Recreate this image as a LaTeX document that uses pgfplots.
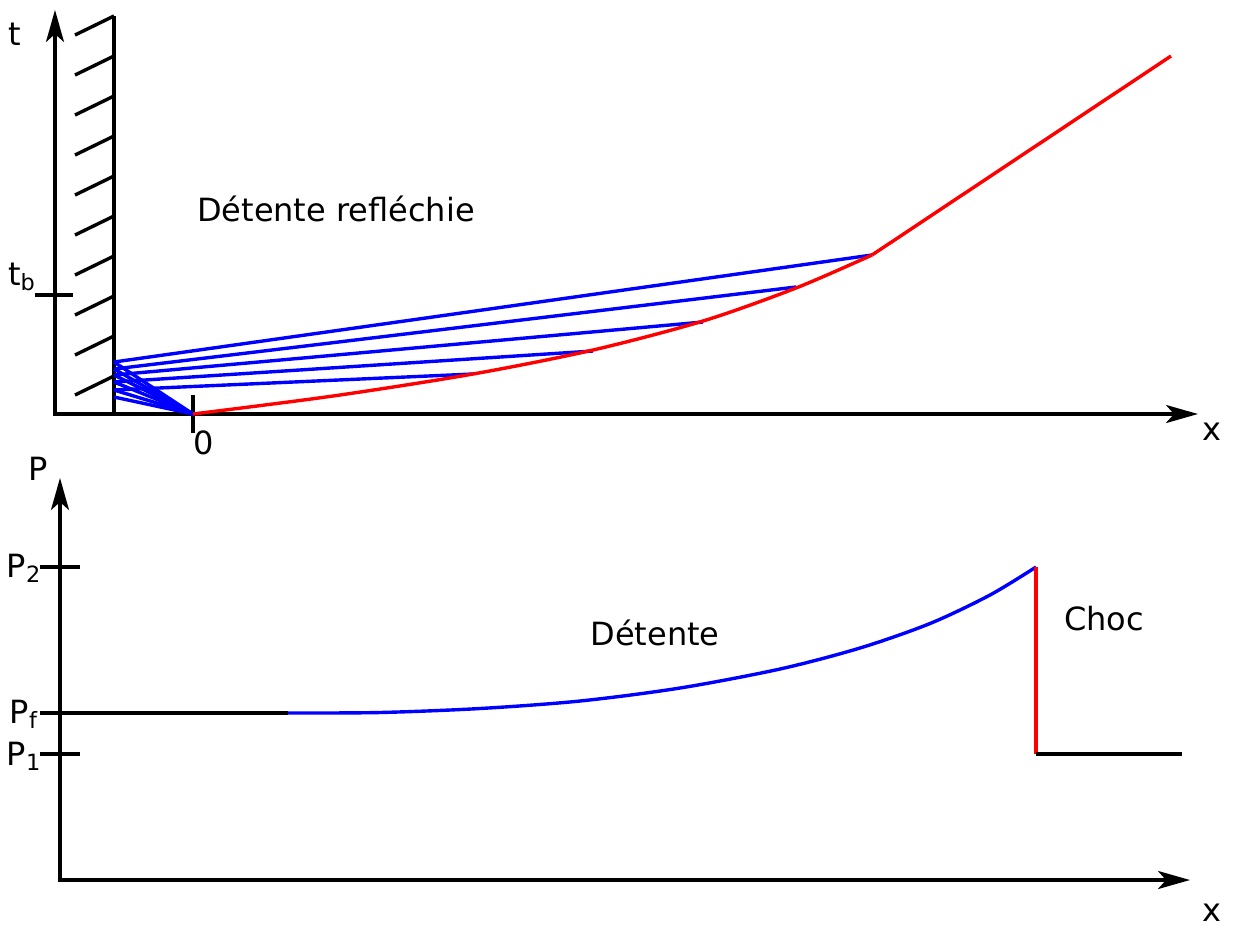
\documentclass[border=0pt]{standalone}
\usepackage{pgfplots}
\pgfplotsset{compat=1.18}
\usepackage{fontspec}
\setmainfont{DejaVu Sans}
\usetikzlibrary{arrows.meta}

\tikzset{
  ax/.style={black, -{Stealth[length=16pt,width=9pt,inset=4pt]}},
  lbl/.style={font=\fontsize{16}{19}\selectfont, inner sep=0pt},
}

\begin{document}
\begin{tikzpicture}
\begin{axis}[
  width=617pt, height=463.5pt, scale only axis,
  xmin=0, xmax=1234, ymin=0, ymax=927, y dir=reverse,
  hide axis, clip=false,
  every axis plot/.append style={line width=1.7pt, mark=none},
]
% frame of the page (invisible)
\addplot[draw=none] coordinates {(0,0) (1234,927)};

% ---- top: x-t diagram ----
\addplot[ax] coordinates {(55,414) (55,10)};
\addplot[ax] coordinates {(53,414) (1198,414)};
\addplot[black] coordinates {(114,16) (114,414)};
% hatching of the wall
\addplot[black] coordinates {(75,35) (114,16)};
\addplot[black] coordinates {(75,75) (114,56)};
\addplot[black] coordinates {(75,115) (114,96)};
\addplot[black] coordinates {(75,155) (114,136)};
\addplot[black] coordinates {(75,195) (114,176)};
\addplot[black] coordinates {(75,235) (114,216)};
\addplot[black] coordinates {(75,275) (114,256)};
\addplot[black] coordinates {(75,315) (114,296)};
\addplot[black] coordinates {(75,355) (114,336)};
\addplot[black] coordinates {(75,395) (114,376)};
% t_b tick and 0 tick
\addplot[black] coordinates {(35,295) (73,295)};
\addplot[black] coordinates {(193,395) (193,433)};

% incident fan
\addplot[blue] coordinates {(193,414) (114,362)};
\addplot[blue] coordinates {(193,414) (114,369)};
\addplot[blue] coordinates {(193,414) (114,375)};
\addplot[blue] coordinates {(193,414) (114,382)};
\addplot[blue] coordinates {(193,414) (114,390)};
\addplot[blue] coordinates {(193,414) (114,397)};
% reflected fan
\addplot[blue] coordinates {(114,362) (872,255)};
\addplot[blue] coordinates {(114,369) (796,287)};
\addplot[blue] coordinates {(114,375) (703,322)};
\addplot[blue] coordinates {(114,382) (593,351)};
\addplot[blue] coordinates {(114,390) (473,374)};

% shock path
\addplot[red, smooth] coordinates {
  (193,414) (333,396) (473,374) (593,350) (703,321) (796,288) (872,255)};
\addplot[red] coordinates {(872,255) (1171,56)};

\node[lbl] at (axis cs:15,34) {t};
\node[lbl] at (axis cs:22,277) {t\textsubscript{b}};
\node[lbl] at (axis cs:204,443) {0};
\node[lbl] at (axis cs:1212,432) {x};
\node[lbl] at (axis cs:336,209) {Détente refléchie};

% ---- bottom: pressure profile ----
\addplot[ax] coordinates {(60,880) (60,478)};
\addplot[ax] coordinates {(58,880) (1190,880)};
\addplot[black] coordinates {(40,567) (80,567)};
\addplot[black] coordinates {(40,754) (80,754)};
\addplot[black] coordinates {(40,713) (288,713)};
\addplot[blue, smooth] coordinates {
  (288,713) (380,712.5) (480,708.5) (580,701) (680,688) (780,669)
  (860,648) (930,623.5) (990,595) (1036,567)};
\addplot[red] coordinates {(1036,567) (1036,754)};
\addplot[black] coordinates {(1036,754) (1182,754)};

\node[lbl] at (axis cs:38,469) {P};
\node[lbl] at (axis cs:24,568) {P\textsubscript{2}};
\node[lbl] at (axis cs:24,714) {P\textsubscript{f}};
\node[lbl] at (axis cs:24,756) {P\textsubscript{1}};
\node[lbl] at (axis cs:1212,913) {x};
\node[lbl] at (axis cs:655,633) {Détente};
\node[lbl] at (axis cs:1104,619) {Choc};
\end{axis}
\end{tikzpicture}
\end{document}
